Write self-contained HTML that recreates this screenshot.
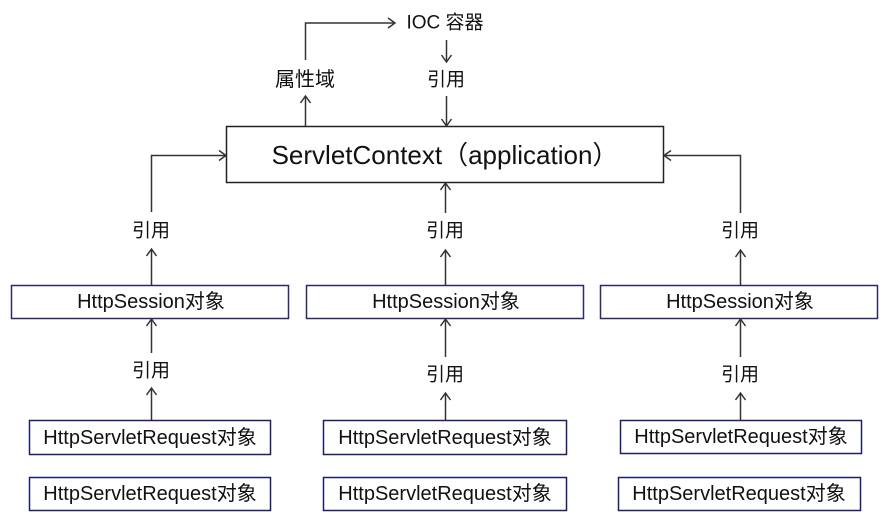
<!DOCTYPE html>
<html><head><meta charset="utf-8"><style>
html,body{margin:0;padding:0;background:#fff;}
svg{display:block}
text{font-family:"Liberation Sans","Noto Sans CJK SC",sans-serif;fill:#111;}
</style></head><body>
<svg width="890" height="528" viewBox="0 0 890 528" xmlns="http://www.w3.org/2000/svg">
<g fill="none" stroke="#333" stroke-width="1.5">
<rect x="226.5" y="126.5" width="437" height="56" stroke="#222"/>
<rect x="11.5" y="285.5" width="277" height="33" stroke="#2a2a6a"/>
<rect x="306.5" y="285.5" width="277" height="33" stroke="#2a2a6a"/>
<rect x="600.5" y="285.5" width="277" height="33" stroke="#2a2a6a"/>
<rect x="29.5" y="420.5" width="241" height="34" stroke="#1e1e6a"/>
<rect x="29.5" y="477.5" width="241" height="33" stroke="#1e1e6a"/>
<rect x="323.5" y="420.5" width="243" height="34" stroke="#1e1e6a"/>
<rect x="323.5" y="477.5" width="243" height="33" stroke="#1e1e6a"/>
<rect x="620.5" y="420.5" width="241" height="33" stroke="#1e1e6a"/>
<rect x="618.5" y="477.5" width="242" height="33" stroke="#1e1e6a"/>
<polyline points="305.5,60 305.5,23 395,23"/>
<polyline points="388,18 395,23 388,28"/>
<line x1="305.5" y1="126" x2="305.5" y2="96"/>
<polyline points="300.5,103 305.5,96 310.5,103"/>
<line x1="446.5" y1="40" x2="446.5" y2="62"/>
<polyline points="441.5,55 446.5,62 451.5,55"/>
<line x1="446.5" y1="96" x2="446.5" y2="126"/>
<polyline points="441.5,119 446.5,126 451.5,119"/>
<polyline points="151.5,212 151.5,155.5 226,155.5"/>
<polyline points="219,150.5 226,155.5 219,160.5"/>
<line x1="151.5" y1="285" x2="151.5" y2="249"/>
<polyline points="146.5,256 151.5,249 156.5,256"/>
<line x1="151.5" y1="353" x2="151.5" y2="319"/>
<polyline points="146.5,326 151.5,319 156.5,326"/>
<line x1="151.5" y1="420" x2="151.5" y2="388"/>
<polyline points="146.5,395 151.5,388 156.5,395"/>
<line x1="445.5" y1="213" x2="445.5" y2="183"/>
<polyline points="440.5,190 445.5,183 450.5,190"/>
<line x1="445.5" y1="285" x2="445.5" y2="250"/>
<polyline points="440.5,257 445.5,250 450.5,257"/>
<line x1="445.5" y1="357" x2="445.5" y2="319"/>
<polyline points="440.5,326 445.5,319 450.5,326"/>
<line x1="445.5" y1="420" x2="445.5" y2="393"/>
<polyline points="440.5,400 445.5,393 450.5,400"/>
<polyline points="740.5,213 740.5,155.5 664,155.5"/>
<polyline points="671,150.5 664,155.5 671,160.5"/>
<line x1="740.5" y1="285" x2="740.5" y2="250"/>
<polyline points="735.5,257 740.5,250 745.5,257"/>
<line x1="740.5" y1="357" x2="740.5" y2="319"/>
<polyline points="735.5,326 740.5,319 745.5,326"/>
<line x1="740.5" y1="420" x2="740.5" y2="393"/>
<polyline points="735.5,400 740.5,393 745.5,400"/>
</g>
<g text-anchor="middle" dominant-baseline="central" font-size="19">
<text x="445" y="155" font-size="26">ServletContext（application）</text>
<text x="445" y="23" font-size="19">IOC 容器</text>
<text x="305" y="80" font-size="20">属性域</text>
<text x="446" y="80">引用</text>
<text x="151" y="231">引用</text>
<text x="445" y="231">引用</text>
<text x="740" y="231">引用</text>
<text x="151" y="371">引用</text>
<text x="445" y="375">引用</text>
<text x="740" y="375">引用</text>
<text x="151" y="302" font-size="20">HttpSession对象</text>
<text x="446" y="302" font-size="20">HttpSession对象</text>
<text x="740" y="302" font-size="20">HttpSession对象</text>
<text x="150" y="438" font-size="20">HttpServletRequest对象</text>
<text x="150" y="494" font-size="20">HttpServletRequest对象</text>
<text x="445" y="438" font-size="20">HttpServletRequest对象</text>
<text x="445" y="494" font-size="20">HttpServletRequest对象</text>
<text x="741" y="437" font-size="20">HttpServletRequest对象</text>
<text x="739" y="494" font-size="20">HttpServletRequest对象</text>
</g>
</svg>
</body></html>
